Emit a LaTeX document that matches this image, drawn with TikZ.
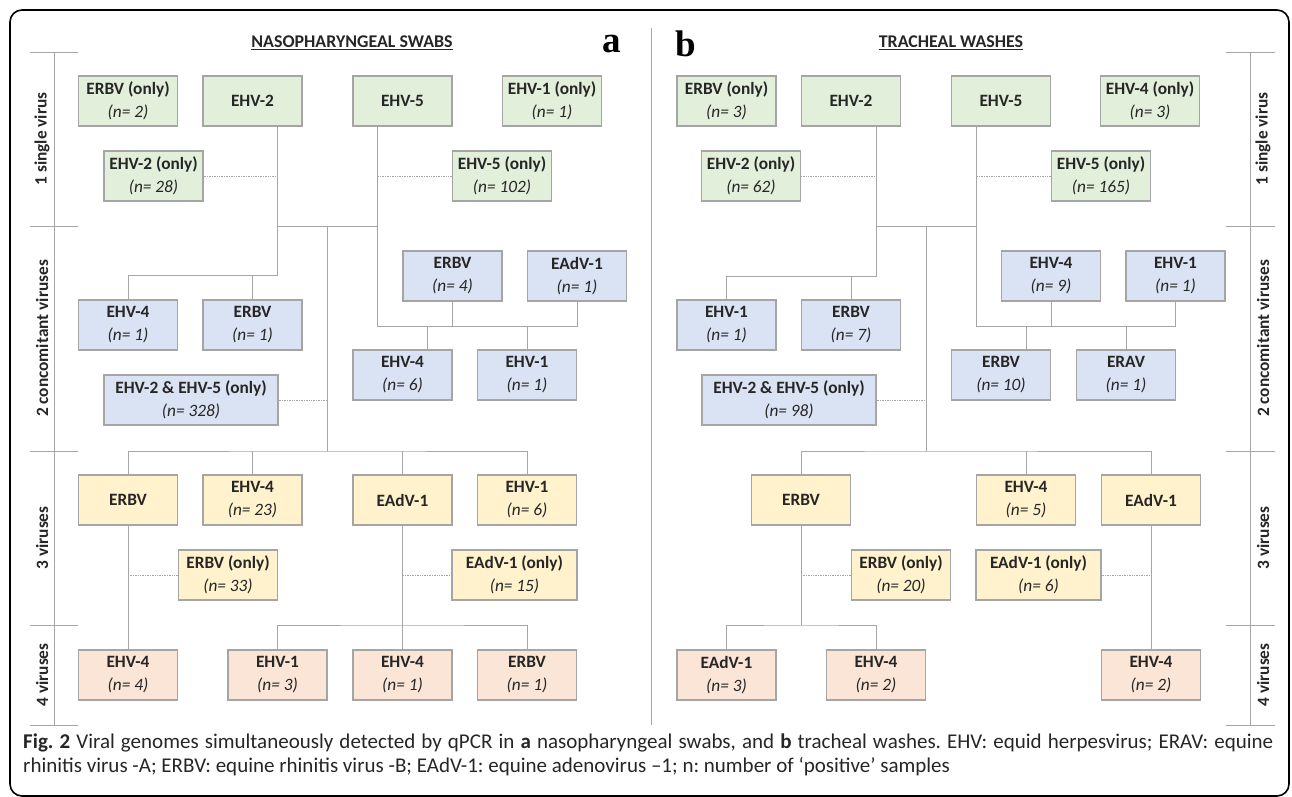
\documentclass[tikz,border=0pt]{standalone}
\usepackage{fontspec}
\setmainfont{Carlito}
\newfontfamily\panelfont{Liberation Serif}
\definecolor{gfill}{HTML}{E2EFDA}
\definecolor{bfill}{HTML}{DAE3F3}
\definecolor{yfill}{HTML}{FFF2CC}
\definecolor{pfill}{HTML}{FBE5D6}
\definecolor{edge}{HTML}{A5A5A5}
\definecolor{wire}{HTML}{A6A6A6}
\definecolor{ink}{HTML}{262626}
\newcommand{\vir}[2]{\textbf{#1}\\\textit{#2}}
\frenchspacing
\begin{document}
\begin{tikzpicture}[x=1pt,y=-1pt,
    vbox/.style={draw=edge,line width=1.1pt,minimum width=99pt,minimum height=50pt,
      inner sep=0pt,align=center,text=ink,font=\fontsize{17.3}{23}\selectfont},
    onevir/.style={vbox,fill=gfill},
    twovir/.style={vbox,fill=bfill},
    threevir/.style={vbox,fill=yfill},
    fourvir/.style={vbox,fill=pfill},
    wide/.style={minimum width=#1},
    link/.style={draw=wire,line width=0.8pt},
    only/.style={draw=wire,line width=0.7pt,densely dotted},
    level/.style={rotate=90,text=ink,font=\fontsize{17.3}{20}\selectfont\bfseries},
    title/.style={text=ink,font=\fontsize{17.9}{20}\selectfont\bfseries},
    panel/.style={font=\fontsize{37}{40}\selectfont\panelfont\bfseries},
    caption/.style={anchor=west,inner sep=0pt,text=ink,font=\fontsize{21}{24}\selectfont}]
  \useasboundingbox (0,0) rectangle (1292,797);
  \draw[line width=1.6pt,rounded corners=12pt] (10,10) rectangle (1289,796);
  \draw[draw=wire,line width=0.8pt] (651.5,28) -- (651.5,725);

  % scales
  \draw[link] (54,52) -- (54,725);
  \draw[link] (1250,52) -- (1250,725);
  \foreach \y in {52,226,451,625,725} {
    \draw[link] (29.5,\y) -- (78,\y);
    \draw[link] (1225.5,\y) -- (1275,\y);
  }
  \node[level] (l1) at (42,139) {1 single virus};
  \node[level] (l2) at (42,338.5) {2 concomitant viruses};
  \node[level] (l3) at (42,538) {3 viruses};
  \node[level] (l4) at (42,675) {4 viruses};
  \node[level] (r1) at (1263,139) {1 single virus};
  \node[level] (r2) at (1263,338.5) {2 concomitant viruses};
  \node[level] (r3) at (1263,538) {3 viruses};
  \node[level] (r4) at (1263,675) {4 viruses};

  % a: nasopharyngeal swabs
  \node[title] (Ltitle) at (352,43) {\underline{NASOPHARYNGEAL SWABS}};
  \node[panel] (La) at (612,44) {a};
  \node[onevir] (Lerbvo) at (128,101) {\vir{ERBV (only)}{(n= 2)}};
  \node[onevir] (Lehv2) at (252.5,101) {\textbf{EHV-2}};
  \node[onevir] (Lehv5) at (402.5,101) {\textbf{EHV-5}};
  \node[onevir] (Lehv1o) at (552,101) {\vir{EHV-1 (only)}{(n= 1)}};
  \node[onevir] (Lehv2o) at (153.5,176) {\vir{EHV-2 (only)}{(n= 28)}};
  \node[onevir] (Lehv5o) at (502,176) {\vir{EHV-5 (only)}{(n= 102)}};
  \node[twovir] (Lehv4a) at (128,325) {\vir{EHV-4}{(n= 1)}};
  \node[twovir] (Lerbva) at (252.5,325) {\vir{ERBV}{(n= 1)}};
  \node[twovir] (Lerbvb) at (452.5,276) {\vir{ERBV}{(n= 4)}};
  \node[twovir] (Leadva) at (577,276) {\vir{EAdV-1}{(n= 1)}};
  \node[twovir] (Lehv4b) at (402.5,375) {\vir{EHV-4}{(n= 6)}};
  \node[twovir] (Lehv1a) at (527,375) {\vir{EHV-1}{(n= 1)}};
  \node[twovir,wide=174pt] (Lboth) at (191,400) {\vir{EHV-2 \& EHV-5 (only)}{(n= 328)}};
  \node[threevir] (Lerbvc) at (128,500) {\textbf{ERBV}};
  \node[threevir] (Lehv4c) at (252.5,500) {\vir{EHV-4}{(n= 23)}};
  \node[threevir] (Leadvb) at (402.5,500) {\textbf{EAdV-1}};
  \node[threevir] (Lehv1b) at (527,500) {\vir{EHV-1}{(n= 6)}};
  \node[threevir] (Lerbvo2) at (228,575) {\vir{ERBV (only)}{(n= 33)}};
  \node[threevir,wide=125pt] (Leadvo) at (514.5,575) {\vir{EAdV-1 (only)}{(n= 15)}};
  \node[fourvir] (Lehv4d) at (128,675) {\vir{EHV-4}{(n= 4)}};
  \node[fourvir] (Lehv1c) at (277.5,675) {\vir{EHV-1}{(n= 3)}};
  \node[fourvir] (Lehv4e) at (402.5,675) {\vir{EHV-4}{(n= 1)}};
  \node[fourvir] (Lerbvd) at (527,675) {\vir{ERBV}{(n= 1)}};
  \coordinate (L2) at (277.5,275);
  \coordinate (L5) at (377.5,326);
  \coordinate (L5a) at (427,326);
  \coordinate (Lj) at (327.5,226);
  \coordinate (L3) at (327.5,451);
  \coordinate (L4) at (402.5,625);
  \begin{scope}[link]
    \draw (Lehv2.south -| L2) -- (L2) -| (Lehv4a.north);
    \draw (Lerbva.north) -- (Lerbva.north |- L2);
    \draw (Lehv5.south -| L5) -- (L5) -| (Leadva.south);
    \draw (Lerbvb.south) -- (Lerbvb.south |- L5);
    \draw (L5a) -- (L5a |- Lehv4b.north);
    \draw (Lehv1a.north) -- (Lehv1a.north |- L5);
    \draw (L2 |- Lj) -- (L5 |- Lj);
    \draw (Lj) -- (L3);
    \draw (Lerbvc.north) |- (L3) -| (Lehv1b.north);
    \draw (Lehv4c.north) -- (Lehv4c.north |- L3);
    \draw (Leadvb.north) -- (Leadvb.north |- L3);
    \draw (Lerbvc.south) -- (Lehv4d.north);
    \draw (Leadvb.south) -- (Lehv4e.north);
    \draw (Lehv1c.north) |- (L4) -| (Lerbvd.north);
  \end{scope}
  \begin{scope}[only]
    \draw (Lehv2o.east) -- (Lehv2o.east -| L2);
    \draw (Lehv5o.west) -- (Lehv5o.west -| L5);
    \draw (Lboth.east) -- (Lboth.east -| Lj);
    \draw (Lerbvo2.west) -- (Lerbvo2.west -| Lerbvc);
    \draw (Leadvo.west) -- (Leadvo.west -| Leadvb);
  \end{scope}

  % b: tracheal washes
  \node[title] (Rtitle) at (951,43) {\underline{TRACHEAL WASHES}};
  \node[panel] (Rb) at (686,44) {b};
  \node[onevir] (Rerbvo) at (726.5,101) {\vir{ERBV (only)}{(n= 3)}};
  \node[onevir] (Rehv2) at (851,101) {\textbf{EHV-2}};
  \node[onevir] (Rehv5) at (1001,101) {\textbf{EHV-5}};
  \node[onevir] (Rehv4o) at (1150,101) {\vir{EHV-4 (only)}{(n= 3)}};
  \node[onevir] (Rehv2o) at (751,176) {\vir{EHV-2 (only)}{(n= 62)}};
  \node[onevir] (Rehv5o) at (1101,176) {\vir{EHV-5 (only)}{(n= 165)}};
  \node[twovir] (Rehv1a) at (726.5,325) {\vir{EHV-1}{(n= 1)}};
  \node[twovir] (Rerbva) at (851,325) {\vir{ERBV}{(n= 7)}};
  \node[twovir] (Rehv4a) at (1051,276) {\vir{EHV-4}{(n= 9)}};
  \node[twovir] (Rehv1b) at (1175.5,276) {\vir{EHV-1}{(n= 1)}};
  \node[twovir] (Rerbvb) at (1001,375) {\vir{ERBV}{(n= 10)}};
  \node[twovir] (Rerav) at (1126,375) {\vir{ERAV}{(n= 1)}};
  \node[twovir,wide=174pt] (Rboth) at (789,400) {\vir{EHV-2 \& EHV-5 (only)}{(n= 98)}};
  \node[threevir] (Rerbvc) at (801,500) {\textbf{ERBV}};
  \node[threevir] (Rehv4b) at (1026,500) {\vir{EHV-4}{(n= 5)}};
  \node[threevir] (Readva) at (1151,500) {\textbf{EAdV-1}};
  \node[threevir] (Rerbvo2) at (901,575) {\vir{ERBV (only)}{(n= 20)}};
  \node[threevir,wide=125pt] (Readvo) at (1038.5,575) {\vir{EAdV-1 (only)}{(n= 6)}};
  \node[fourvir] (Readvb) at (726.5,675) {\vir{EAdV-1}{(n= 3)}};
  \node[fourvir] (Rehv4c) at (876,675) {\vir{EHV-4}{(n= 2)}};
  \node[fourvir] (Rehv4d) at (1151,675) {\vir{EHV-4}{(n= 2)}};
  \coordinate (R2) at (876,276);
  \coordinate (R5) at (976,326);
  \coordinate (R5a) at (1026,326);
  \coordinate (Rj) at (926,226);
  \coordinate (R3) at (926,451);
  \coordinate (R4) at (801,625);
  \begin{scope}[link]
    \draw (Rehv2.south -| R2) -- (R2) -| (Rehv1a.north);
    \draw (Rerbva.north) -- (Rerbva.north |- R2);
    \draw (Rehv5.south -| R5) -- (R5) -| (Rehv1b.south);
    \draw (Rehv4a.south) -- (Rehv4a.south |- R5);
    \draw (R5a) -- (R5a |- Rerbvb.north);
    \draw (Rerav.north) -- (Rerav.north |- R5);
    \draw (R2 |- Rj) -- (R5 |- Rj);
    \draw (Rj) -- (R3);
    \draw (Rerbvc.north) |- (R3) -| (Readva.north);
    \draw (Rehv4b.north) -- (Rehv4b.north |- R3);
    \draw (Rerbvc.south) -- (R4);
    \draw (Readvb.north) |- (R4) -| (Rehv4c.north);
    \draw (Readva.south) -- (Rehv4d.north);
  \end{scope}
  \begin{scope}[only]
    \draw (Rehv2o.east) -- (Rehv2o.east -| R2);
    \draw (Rehv5o.west) -- (Rehv5o.west -| R5);
    \draw (Rboth.east) -- (Rboth.east -| Rj);
    \draw (Rerbvo2.west) -- (Rerbvo2.west -| Rerbvc);
    \draw (Readvo.east) -- (Readvo.east -| Readva);
  \end{scope}

  % caption
  \node[caption] (cap1) at (23,743)
    {\makebox[1250pt][s]{\textbf{Fig. 2} Viral genomes simultaneously detected by qPCR in \textbf{a} nasopharyngeal swabs, and \textbf{b} tracheal washes. EHV: equid herpesvirus; ERAV: equine}};
  \node[caption] (cap2) at (23,767)
    {rhinitis virus -A; ERBV: equine rhinitis virus -B; EAdV-1: equine adenovirus --1; n: number of ‘positive’ samples};
\end{tikzpicture}
\end{document}
